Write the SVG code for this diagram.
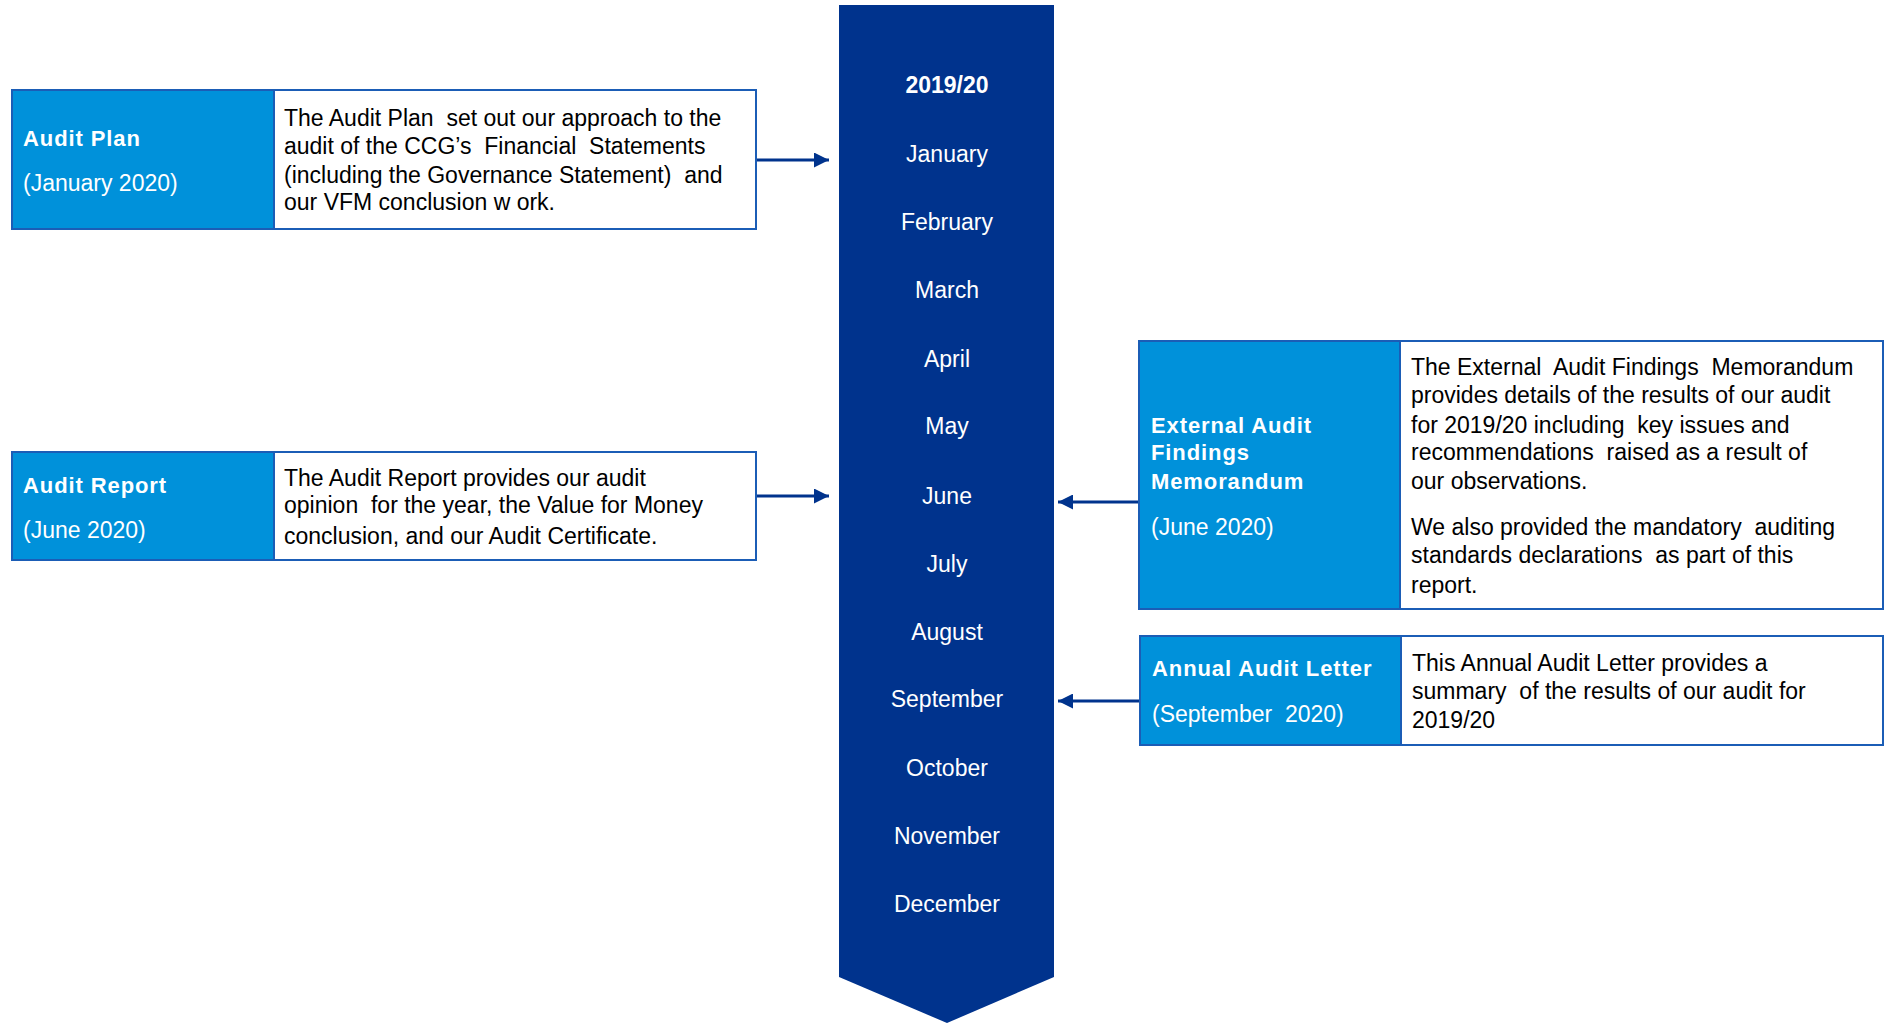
<svg xmlns="http://www.w3.org/2000/svg" width="1887" height="1023" viewBox="0 0 1887 1023">
<defs>
<style>
text{white-space:pre}
.box{fill:#fff;stroke:#1B5DB6;stroke-width:2}
.lab{fill:#0091DA;stroke:#1B5DB6;stroke-width:2}
.t{font-family:"Liberation Sans",Arial,sans-serif;font-size:23px;fill:#000}
.h{font-family:"Liberation Sans",Arial,sans-serif;font-size:22px;font-weight:bold;fill:#fff;letter-spacing:0.9px}
.s{font-family:"Liberation Sans",Arial,sans-serif;font-size:23px;fill:#fff}
.m{font-family:"Liberation Sans",Arial,sans-serif;font-size:23px;fill:#fff;text-anchor:middle}
.c{stroke:#00338D;stroke-width:3;fill:none}
</style>
<marker id="ah" viewBox="0 0 10 10" refX="10" refY="5" markerWidth="16" markerHeight="15" markerUnits="userSpaceOnUse" orient="auto">
<path d="M0,0 L10,5 L0,10 Z" fill="#00338D"/>
</marker>
</defs>

<g id="timeline">
<path d="M839,5 L1054,5 L1054,977 L947,1023 L839,977 Z" fill="#00338D"/>
<text class="m" x="947" y="93" font-weight="bold">2019/20</text>
<text class="m" x="947" y="162">January</text>
<text class="m" x="947" y="230">February</text>
<text class="m" x="947" y="298">March</text>
<text class="m" x="947" y="367">April</text>
<text class="m" x="947" y="434">May</text>
<text class="m" x="947" y="504">June</text>
<text class="m" x="947" y="572">July</text>
<text class="m" x="947" y="640">August</text>
<text class="m" x="947" y="707">September</text>
<text class="m" x="947" y="776">October</text>
<text class="m" x="947" y="844">November</text>
<text class="m" x="947" y="912">December</text>
</g>

<g id="audit-plan">
<rect class="box" x="12" y="90" width="744" height="139"/>
<rect class="lab" x="12" y="90" width="262" height="139"/>
<text class="h" x="23" y="146">Audit Plan</text>
<text class="s" x="23" y="191">(January 2020)</text>
<text class="t" x="284" y="126">The Audit Plan  set out our approach to the</text>
<text class="t" x="284" y="154">audit of the CCG’s  Financial  Statements</text>
<text class="t" x="284" y="183">(including the Governance Statement)  and</text>
<text class="t" x="284" y="210">our VFM conclusion w ork.</text>
</g>

<g id="audit-report">
<rect class="box" x="12" y="452" width="744" height="108"/>
<rect class="lab" x="12" y="452" width="262" height="108"/>
<text class="h" x="23" y="493">Audit Report</text>
<text class="s" x="23" y="538">(June 2020)</text>
<text class="t" x="284" y="486">The Audit Report provides our audit</text>
<text class="t" x="284" y="513">opinion  for the year, the Value for Money</text>
<text class="t" x="284" y="544">conclusion, and our Audit Certificate.</text>
</g>

<g id="eafm">
<rect class="box" x="1139" y="341" width="744" height="268"/>
<rect class="lab" x="1139" y="341" width="261" height="268"/>
<text class="h" x="1151" y="433">External Audit</text>
<text class="h" x="1151" y="460">Findings</text>
<text class="h" x="1151" y="489">Memorandum</text>
<text class="s" x="1151" y="535">(June 2020)</text>
<text class="t" x="1411" y="375">The External  Audit Findings  Memorandum</text>
<text class="t" x="1411" y="403">provides details of the results of our audit</text>
<text class="t" x="1411" y="433">for 2019/20 including  key issues and</text>
<text class="t" x="1411" y="460">recommendations  raised as a result of</text>
<text class="t" x="1411" y="489">our observations.</text>
<text class="t" x="1411" y="535">We also provided the mandatory  auditing</text>
<text class="t" x="1411" y="563">standards declarations  as part of this</text>
<text class="t" x="1411" y="593">report.</text>
</g>

<g id="annual-letter">
<rect class="box" x="1140" y="636" width="743" height="109"/>
<rect class="lab" x="1140" y="636" width="261" height="109"/>
<text class="h" x="1152" y="676">Annual Audit Letter</text>
<text class="s" x="1152" y="722">(September  2020)</text>
<text class="t" x="1412" y="671">This Annual Audit Letter provides a</text>
<text class="t" x="1412" y="699">summary  of the results of our audit for</text>
<text class="t" x="1412" y="728">2019/20</text>
</g>

<g id="connectors">
<line class="c" x1="757" y1="160" x2="829" y2="160" marker-end="url(#ah)"/>
<line class="c" x1="757" y1="496" x2="829" y2="496" marker-end="url(#ah)"/>
<line class="c" x1="1138" y1="502" x2="1058" y2="502" marker-end="url(#ah)"/>
<line class="c" x1="1139" y1="701" x2="1058" y2="701" marker-end="url(#ah)"/>
</g>
</svg>
